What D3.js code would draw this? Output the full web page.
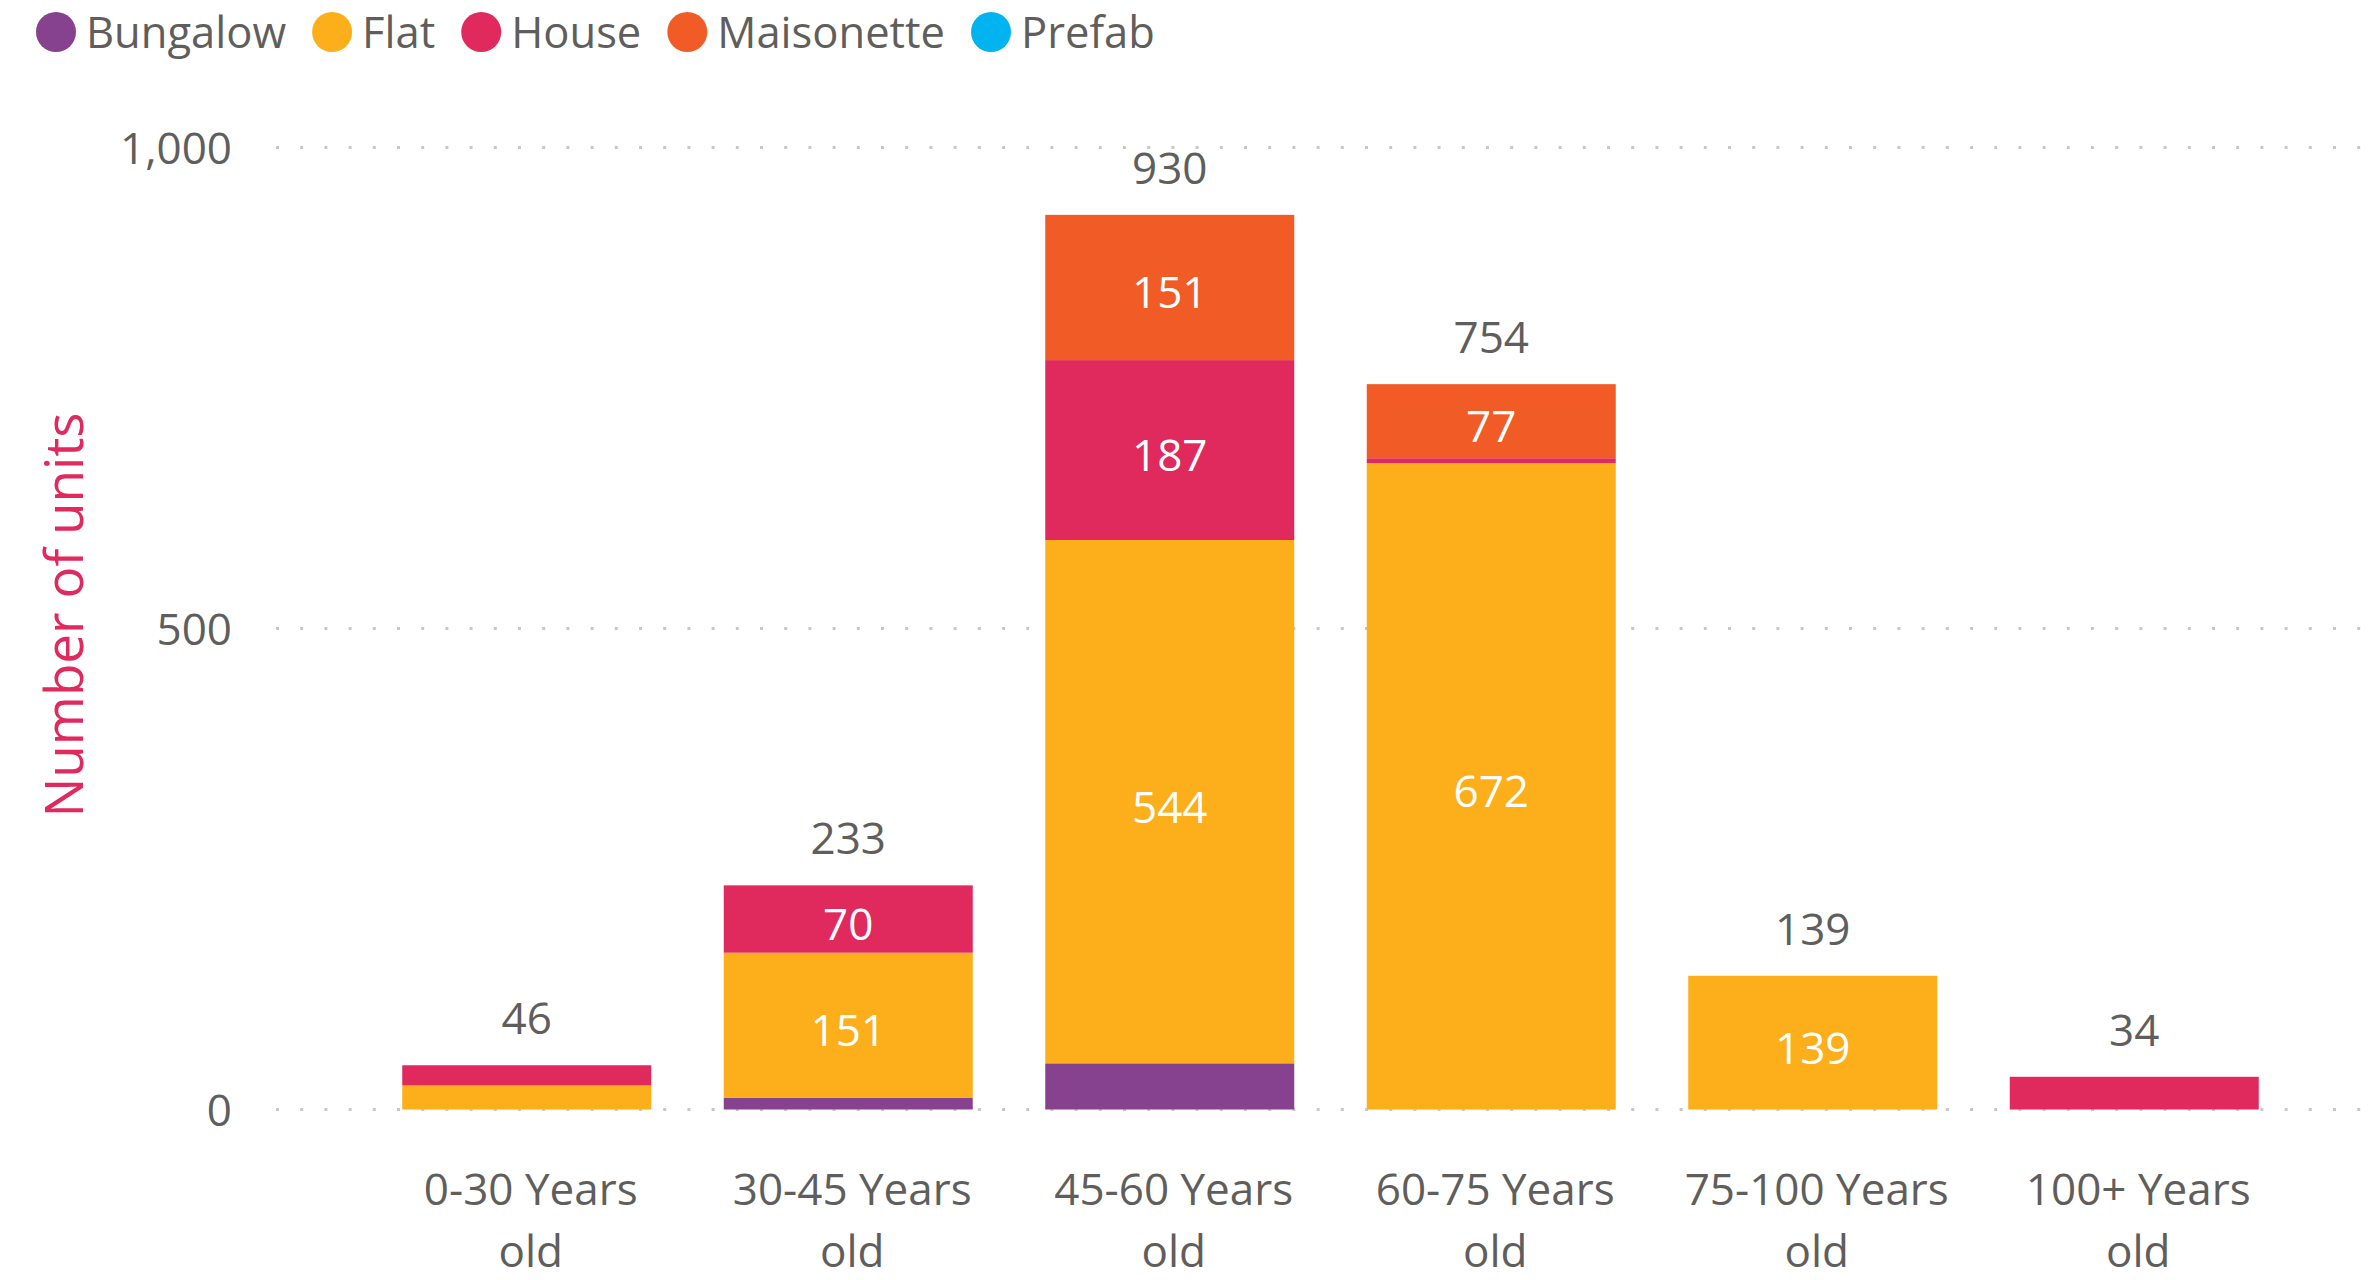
<!DOCTYPE html>
<html>
<head>
<meta charset="utf-8">
<script src="https://cdn.jsdelivr.net/npm/d3@7"></script>
<style>
  html, body { margin: 0; padding: 0; background: #ffffff; }
  svg { display: block; }
  text { font-family: "Open Sans", "Noto Sans", sans-serif; }
</style>
</head>
<body>
<svg id="chart" width="2377" height="1280"></svg>
<script>
// Dwelling counts by property age band and dwelling type
const categories = ["0-30 Years old", "30-45 Years old", "45-60 Years old", "60-75 Years old", "75-100 Years old", "100+ Years old"];
const seriesNames = ["Bungalow", "Flat", "House", "Maisonette", "Prefab"];
const bungalow   = [0, 12, 48, 0, 0, 0];
const flat       = [25, 151, 544, 672, 139, 0];
const house      = [21, 70, 187, 5, 0, 34];
const maisonette = [0, 0, 151, 77, 0, 0];
const prefab     = [0, 0, 0, 0, 0, 0];
const yTicks = [0, 500, 1000];
const yTitle = "Number of units";

const colors = {
  Bungalow: "#86418F",
  Flat: "#FCAF1A",
  House: "#E02A5E",
  Maisonette: "#F15B25",
  Prefab: "#01B4EF"
};
const textGray = "#605E5C";

const seriesValues = { Bungalow: bungalow, Flat: flat, House: house, Maisonette: maisonette, Prefab: prefab };
const rows = categories.map((c, i) => {
  const r = { category: c };
  seriesNames.forEach(s => { r[s] = seriesValues[s][i]; });
  return r;
});
const totals = rows.map(r => d3.sum(seriesNames, s => r[s]));

const svg = d3.select("#chart");

// Scales
const x = d3.scaleBand()
  .domain(categories)
  .range([366, 2295])
  .paddingInner(0.2255)
  .paddingOuter(0.11275);

const y = d3.scaleLinear()
  .domain([0, 1000])
  .range([1109.5, 147.5]);

// Dotted gridlines
const gridLeft = 276, gridRight = 2366;
svg.append("g")
  .selectAll("line")
  .data(yTicks)
  .join("line")
  .attr("x1", gridLeft)
  .attr("x2", gridRight)
  .attr("y1", d => y(d))
  .attr("y2", d => y(d))
  .attr("stroke", "#C8C8C8")
  .attr("stroke-width", 3)
  .attr("stroke-dasharray", "3 21.2");

// Y axis tick labels
const yAxis = svg.append("g")
  .attr("transform", "translate(232,0)")
  .call(d3.axisLeft(y).tickValues(yTicks).tickFormat(d3.format(",")).tickSize(0).tickPadding(0));
yAxis.select(".domain").remove();
yAxis.selectAll("text")
  .attr("fill", textGray)
  .attr("font-size", 44)
  .attr("font-family", "'Open Sans', sans-serif")
  .attr("dy", "0.36em");

// Y axis title
svg.append("text")
  .attr("transform", "translate(83,615) rotate(-90)")
  .attr("text-anchor", "middle")
  .attr("font-size", 53)
  .attr("fill", "#E02A5E")
  .text(yTitle);

// Stacked bars
const stacked = d3.stack().keys(seriesNames)(rows);

const layers = svg.append("g")
  .selectAll("g")
  .data(stacked)
  .join("g")
  .attr("fill", d => colors[d.key]);

layers.selectAll("rect")
  .data(d => d.map(p => ({ key: d.key, p })))
  .join("rect")
  .attr("x", d => x(d.p.data.category))
  .attr("width", x.bandwidth())
  .attr("y", d => y(d.p[1]))
  .attr("height", d => Math.max(0, y(d.p[0]) - y(d.p[1])));

// Segment value labels (only where the segment is tall enough)
const segLabels = [];
stacked.forEach(layer => {
  layer.forEach(p => {
    const v = p[1] - p[0];
    const h = y(p[0]) - y(p[1]);
    if (v > 0 && h > 60) {
      segLabels.push({ cat: p.data.category, v, mid: (y(p[0]) + y(p[1])) / 2 });
    }
  });
});
svg.append("g")
  .selectAll("text")
  .data(segLabels)
  .join("text")
  .attr("x", d => x(d.cat) + x.bandwidth() / 2)
  .attr("y", d => d.mid + 21)
  .attr("text-anchor", "middle")
  .attr("font-size", 44)
  .attr("fill", "#ffffff")
  .text(d => d3.format(",")(d.v));

// Total labels above each bar
svg.append("g")
  .selectAll("text")
  .data(categories)
  .join("text")
  .attr("x", d => x(d) + x.bandwidth() / 2)
  .attr("y", (d, i) => y(totals[i]) - 31)
  .attr("text-anchor", "middle")
  .attr("font-size", 44)
  .attr("fill", textGray)
  .text((d, i) => d3.format(",")(totals[i]));

// X axis category labels, wrapped onto two lines
const xAxis = svg.append("g")
  .attr("transform", "translate(4,1109.5)")
  .call(d3.axisBottom(x).tickSize(0).tickPadding(0));
xAxis.select(".domain").remove();
xAxis.selectAll(".tick text").each(function(d) {
  const t = d3.select(this);
  const cut = d.lastIndexOf(" ");
  const lines = [d.slice(0, cut), d.slice(cut + 1)];
  t.text(null)
    .attr("y", 0)
    .attr("dy", null)
    .attr("fill", textGray)
    .attr("font-size", 44)
    .attr("font-family", "'Open Sans', sans-serif");
  lines.forEach((ln, k) => {
    t.append("tspan")
      .attr("x", 0)
      .attr("y", 95 + k * 62)
      .text(ln);
  });
});

// Legend
const legend = svg.append("g").attr("transform", "translate(0,32)");
let lx = 36;
seriesNames.forEach(name => {
  const g = legend.append("g").attr("transform", `translate(${lx},0)`);
  g.append("circle")
    .attr("cx", 20)
    .attr("cy", 0)
    .attr("r", 20)
    .attr("fill", colors[name]);
  const t = g.append("text")
    .attr("x", 50)
    .attr("y", 16)
    .attr("font-size", 43.5)
    .attr("fill", textGray)
    .text(name);
  lx += 50 + t.node().getComputedTextLength() + 26;
});
</script>
</body>
</html>
